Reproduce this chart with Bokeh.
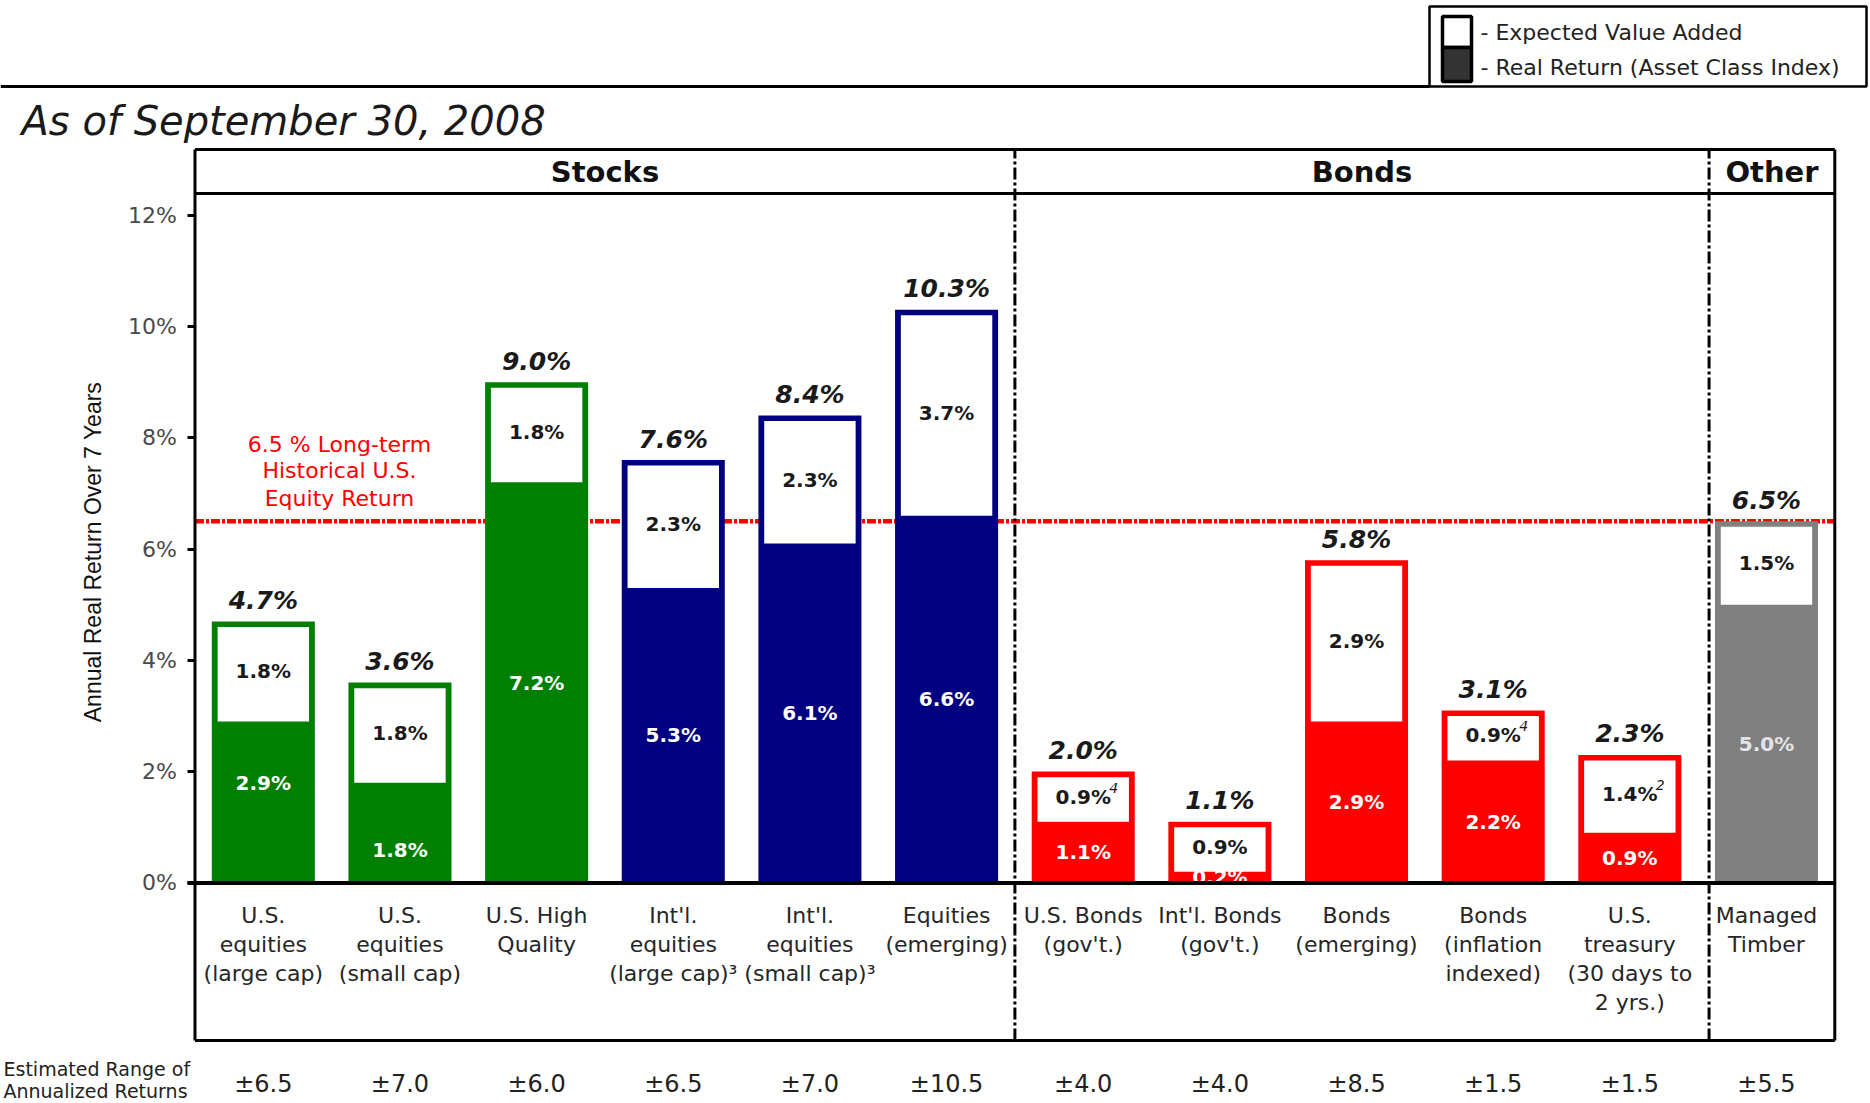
from bokeh.plotting import figure
from bokeh.models import Range1d, LinearAxis, FixedTicker
from bokeh.core.properties import value
from bokeh.embed import file_html
from bokeh.resources import INLINE

# ---------------- data ----------------
categories = [
    "U.S.\nequities\n(large cap)",
    "U.S.\nequities\n(small cap)",
    "U.S. High\nQuality",
    "Int'l.\nequities\n(large cap)\u00b3",
    "Int'l.\nequities\n(small cap)\u00b3",
    "Equities\n(emerging)",
    "U.S. Bonds\n(gov't.)",
    "Int'l. Bonds\n(gov't.)",
    "Bonds\n(emerging)",
    "Bonds\n(inflation\nindexed)",
    "U.S.\ntreasury\n(30 days to\n2 yrs.)",
    "Managed\nTimber",
]
real_return = [2.9, 1.8, 7.2, 5.3, 6.1, 6.6, 1.1, 0.2, 2.9, 2.2, 0.9, 5.0]
value_added = [1.8, 1.8, 1.8, 2.3, 2.3, 3.7, 0.9, 0.9, 2.9, 0.9, 1.4, 1.5]
value_added_notes = ["", "", "", "", "", "", "4", "", "", "4", "2", ""]
range_of_returns = ["\u00b16.5", "\u00b17.0", "\u00b16.0", "\u00b16.5", "\u00b17.0", "\u00b110.5",
                    "\u00b14.0", "\u00b14.0", "\u00b18.5", "\u00b11.5", "\u00b11.5", "\u00b15.5"]
groups = ["Stocks", "Bonds", "Other"]
y_ticks = [0, 2, 4, 6, 8, 10, 12]
y_tick_labels = ["0%", "2%", "4%", "6%", "8%", "10%", "12%"]
benchmark = 6.5
benchmark_text = ["6.5 % Long-term", "Historical U.S.", "Equity Return"]

# ---------------- style / layout ----------------
bar_colors = ["#007f00"] * 3 + ["#000080"] * 3 + ["#ff0000"] * 5 + ["#808080"]
real_label_colors = ["white"] * 11 + ["#e4e4e4"]
real_label_nudge = [0.35, -0.3, 0, 0, 0, 0, 0, 0, 0, 0, 0, 0]

W, H = 1870, 1103
PX_X, PX_Y = 136.65, 55.64          # pixels per category slot / per percent
X0, Y0 = 194.5, 882.4               # canvas position of data origin
FONT = value("DejaVu Sans")

def X(px):   # canvas x -> data x
    return (px - X0) / PX_X

def Y(py):   # canvas y -> data y
    return (Y0 - py) / PX_Y

n = len(categories)
xs = [i + 0.5 for i in range(n)]
totals = [round(r + a, 1) for r, a in zip(real_return, value_added)]

p = figure(width=W, height=H, output_backend="svg", toolbar_location=None,
           x_range=Range1d(X(0), X(W)), y_range=Range1d(Y(H), Y(0)),
           x_axis_location=None, y_axis_location=None,
           min_border=0, outline_line_color=None, background_fill_color="white")
p.xgrid.visible = False
p.ygrid.visible = False

# benchmark line (behind bars)
p.segment(x0=[0], y0=[benchmark], x1=[n], y1=[benchmark], line_color="#ff0000",
          line_width=4.5, line_dash="9 2 3 2")

# bars
BW = 0.754
p.vbar(x=xs, bottom=0, top=totals, width=BW, fill_color=bar_colors, line_color=None)
p.vbar(x=xs, bottom=real_return, top=[t - 0.1 for t in totals], width=BW - 0.085,
       fill_color="white", line_color=None)

# segment labels
mid_added = [r + a / 2 for r, a in zip(real_return, value_added)]
p.text(x=xs, y=mid_added, text=[f"{a:.1f}%" for a in value_added], text_align="center",
       text_baseline="middle", text_font=FONT, text_font_style="bold",
       text_font_size="20px", text_color="#1a1a1a")
p.text(x=xs, y=mid_added, text=value_added_notes, x_offset=26, y_offset=-9,
       text_align="left", text_baseline="middle", text_font=FONT,
       text_font_style="italic", text_font_size="14px", text_color="#1a1a1a")
p.text(x=xs, y=[r / 2 + d for r, d in zip(real_return, real_label_nudge)],
       text=[f"{r:.1f}%" for r in real_return], text_align="center", text_baseline="middle",
       text_font=FONT, text_font_style="bold", text_font_size="20px", text_color=real_label_colors)
p.text(x=xs, y=totals, text=[f"{t:.1f}%" for t in totals], y_offset=-21,
       text_align="center", text_baseline="middle", text_font=FONT,
       text_font_style="bold italic", text_font_size="25px", text_color="#1a1a1a")

# benchmark annotation
p.text(x=[X(339)] * 3, y=[Y(444), Y(470), Y(498)], text=benchmark_text,
       text_align="center", text_baseline="middle", text_font=FONT,
       text_font_size="22px", text_color="#ff0000")

# category labels
cx, cy, ct = [], [], []
for i, c in enumerate(categories):
    for j, line in enumerate(c.split("\n")):
        cx.append(xs[i]); cy.append(Y(915 + 29 * j)); ct.append(line)
p.text(x=cx, y=cy, text=ct, text_align="center", text_baseline="middle",
       text_font=FONT, text_font_size="22px", text_color="#262626")

# range row
p.text(x=xs, y=[Y(1083)] * n, text=range_of_returns, text_align="center",
       text_baseline="middle", text_font=FONT, text_font_size="24px", text_color="#222222")
p.text(x=[X(3), X(3)], y=[Y(1068), Y(1090)],
       text=["Estimated Range of", "Annualized Returns"], text_align="left",
       text_baseline="middle", text_font=FONT, text_font_size="19px", text_color="#222222")

# frame box, header, separators
left, right = 0, n
top, head, bottom = Y(149), Y(193), Y(1040)
p.segment(x0=[left, right, left, left, left], y0=[bottom, bottom, top, head, bottom],
          x1=[left, right, right, right, right], y1=[top, top, top, head, bottom],
          line_color="black", line_width=3)
seps = [6.0, 11.08]
p.segment(x0=seps, y0=[bottom] * 2, x1=seps, y1=[top] * 2, line_color="black",
          line_width=3, line_dash="12 3 3 3")
edges = [0] + seps + [n]
p.text(x=[(edges[k] + edges[k + 1]) / 2 for k in range(3)], y=[Y(171)] * 3, text=groups,
       text_align="center", text_baseline="middle", text_font=FONT, text_font_style="bold",
       text_font_size="29px", text_color="#111111")
# zero line
p.segment(x0=[X(187)], y0=[0], x1=[right], y1=[0], line_color="black", line_width=4)

# title and top rule
p.text(x=[X(21)], y=[Y(120)], text=["As of September 30, 2008"], text_align="left",
       text_baseline="middle", text_font=FONT, text_font_style="italic",
       text_font_size="40px", text_color="#1a1a1a")
p.segment(x0=[X(0)], y0=[Y(86)], x1=[X(1429)], y1=[Y(86)], line_color="black", line_width=3)

# legend
p.quad(left=[X(1429)], right=[X(1866)], top=[Y(6)], bottom=[Y(86)], fill_color="white",
       line_color="black", line_width=2.5)
p.quad(left=[X(1442)] * 2, right=[X(1471)] * 2, top=[Y(16), Y(47)], bottom=[Y(47), Y(81)],
       fill_color=["white", "#333333"], line_color="black", line_width=3.5)
p.text(x=[X(1480)] * 2, y=[Y(32), Y(67)],
       text=["- Expected Value Added", "- Real Return (Asset Class Index)"],
       text_align="left", text_baseline="middle", text_font=FONT, text_font_size="22px",
       text_color="#222222")

# y axis
yaxis = LinearAxis(fixed_location=0, ticker=FixedTicker(ticks=y_ticks),
                   major_label_overrides={t: l for t, l in zip(y_ticks, y_tick_labels)},
                   axis_line_color=None, major_tick_out=8, major_tick_in=0,
                   major_tick_line_width=3, major_tick_line_color="black",
                   minor_tick_line_color=None, major_label_standoff=10,
                   major_label_text_font="DejaVu Sans", major_label_text_font_size="22px",
                   major_label_text_color="#4a4a4a",
                   axis_label="Annual Real Return Over 7 Years",
                   axis_label_text_font="Liberation Sans", axis_label_text_font_size="23px",
                   axis_label_text_font_style="normal", axis_label_text_color="#111111",
                   axis_label_standoff=20)
p.add_layout(yaxis, "left")

open("out.html", "w").write(file_html(p, INLINE))
